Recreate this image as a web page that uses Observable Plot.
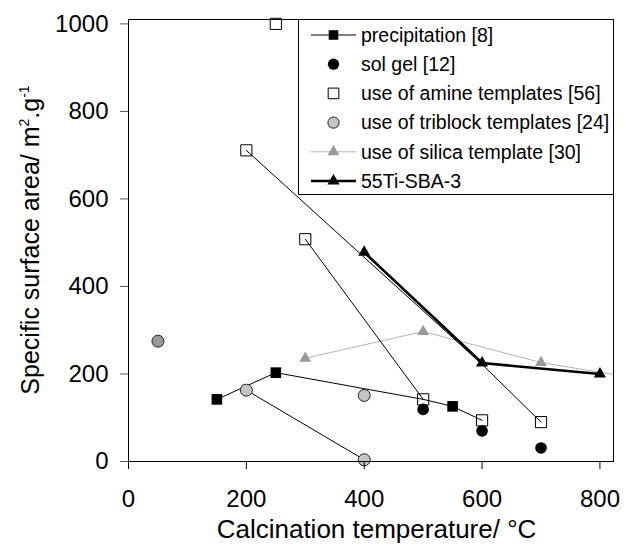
<!DOCTYPE html>
<html>
<head>
<meta charset="utf-8">
<script src="https://cdn.jsdelivr.net/npm/d3@7"></script>
<script src="https://cdn.jsdelivr.net/npm/@observablehq/plot@0.6"></script>
<style>
html, body { margin: 0; padding: 0; background: #fff; }
#chart { position: relative; width: 626px; height: 546px; }
</style>
</head>
<body>
<div id="chart"></div>
<script>
// ---- data ----
const xTicks = [0, 200, 400, 600, 800];
const yTicks = [0, 200, 400, 600, 800, 1000];
const seriesNames = [
  "precipitation [8]",
  "sol gel [12]",
  "use of amine templates [56]",
  "use of triblock templates [24]",
  "use of silica template [30]",
  "55Ti-SBA-3"
];
const xTitle = "Calcination temperature/ °C";

// precipitation [8]
const precipitationT = [150, 250, 550];
const precipitationV = [142, 203, 126];
const precipitationPathT = [150, 250, 500, 550, 600];
const precipitationPathV = [142, 203, 142, 126, 94];
// sol gel [12]
const solGelT = [500, 600, 700];
const solGelV = [119, 70, 31];
// use of amine templates [56]
const amineT = [250, 200, 300, 500, 600, 700];
const amineV = [1000, 711, 508, 142, 94, 90];
const aminePathAT = [200, 600, 700];
const aminePathAV = [711, 222, 90];
const aminePathBT = [300, 500];
const aminePathBV = [508, 142];
// use of triblock templates [24]
const triblockT = [50, 200, 400, 400];
const triblockV = [275, 163, 151, 4];
const triblockPathT = [200, 400];
const triblockPathV = [163, 4];
// use of silica template [30]
const silicaT = [300, 500, 700, 850];
const silicaV = [236, 297, 226, 193];
// 55Ti-SBA-3
const sbaT = [400, 600, 800];
const sbaV = [478, 225, 200];

const pts = (T, V) => T.map((t, i) => ({t, v: V[i]}));

const FONT = "Arial, 'Liberation Sans', Helvetica, sans-serif";
const width = 626, height = 546;
const mL = 128, mR = 13, mT = 19, mB = 85;

const triblock = pts(triblockT, triblockV);

const plot = Plot.plot({
  width, height,
  marginLeft: mL, marginRight: mR, marginTop: mT, marginBottom: mB,
  x: {domain: [0, 823]},
  y: {domain: [0, 1010]},
  style: {fontFamily: FONT, fontSize: "24px", background: "white", color: "black", overflow: "visible"},
  marks: [
    Plot.line(pts(silicaT, silicaV), {x: "t", y: "v", stroke: "#b4b4b4", strokeWidth: 1, clip: true}),
    Plot.dot(pts(silicaT, silicaV), {x: "t", y: "v", symbol: "triangle", r: 4.4, fill: "#999", stroke: "none", clip: true}),
    Plot.line(pts(precipitationPathT, precipitationPathV), {x: "t", y: "v", stroke: "black", strokeWidth: 1}),
    Plot.line(pts(aminePathAT, aminePathAV), {x: "t", y: "v", stroke: "black", strokeWidth: 1}),
    Plot.line(pts(aminePathBT, aminePathBV), {x: "t", y: "v", stroke: "black", strokeWidth: 1}),
    Plot.line(pts(triblockPathT, triblockPathV), {x: "t", y: "v", stroke: "black", strokeWidth: 1}),
    Plot.line(pts(sbaT, sbaV), {x: "t", y: "v", stroke: "black", strokeWidth: 2.6}),
    Plot.dot(pts(precipitationT, precipitationV), {x: "t", y: "v", symbol: "square", r: 6, fill: "black", stroke: "none"}),
    Plot.dot(triblock.slice(0, 1), {x: "t", y: "v", symbol: "circle", r: 6, fill: "#999", stroke: "#222", strokeWidth: 1}),
    Plot.dot(triblock.slice(1), {x: "t", y: "v", symbol: "circle", r: 6, fill: "#c4c4c4", stroke: "#222", strokeWidth: 1}),
    Plot.dot(pts(amineT, amineV), {x: "t", y: "v", symbol: "square", r: 6.3, fill: "none", stroke: "black", strokeWidth: 1}),
    Plot.dot(pts(solGelT, solGelV), {x: "t", y: "v", symbol: "circle", r: 5.8, fill: "black", stroke: "none"}),
    Plot.dot(pts(sbaT, sbaV), {x: "t", y: "v", symbol: "triangle", r: 4.5, fill: "black", stroke: "none"}),
    Plot.frame({stroke: "black"}),
    Plot.axisX({ticks: xTicks, tickFormat: d => String(d), tickSize: 8, tickPadding: 20, fontSize: 24, label: null, stroke: "black"}),
    Plot.axisY({ticks: yTicks, tickFormat: d => String(d), tickSize: 8, tickPadding: 12, fontSize: 24, label: null, stroke: "#555"})
  ]
});

const svg = d3.select(plot);

// axis titles
svg.append("text")
  .attr("x", (mL + width - mR) / 2 + 6)
  .attr("y", 538)
  .attr("text-anchor", "middle")
  .style("font-family", FONT)
  .style("font-size", "26px")
  .attr("fill", "black")
  .text(xTitle);

const yt = svg.append("text")
  .attr("transform", `translate(39,${(mT + height - mB) / 2}) rotate(-90)`)
  .attr("text-anchor", "middle")
  .style("font-family", FONT)
  .style("font-size", "25px")
  .attr("fill", "black");
yt.append("tspan").text("Specific surface area/ m");
yt.append("tspan").attr("dy", -10).style("font-size", "14px").text("2");
yt.append("tspan").attr("dy", 10).text(".g");
yt.append("tspan").attr("dy", -10).style("font-size", "14px").text("-1");

// legend
const lg = svg.append("g");
lg.append("rect")
  .attr("x", 298.5).attr("y", 19.5)
  .attr("width", 315).attr("height", 175)
  .attr("fill", "white").attr("stroke", "black");
const legendStyle = [
  {line: "black", lw: 1, sym: d3.symbolSquare, r: 5.4, fill: "black", stroke: "none"},
  {line: null, sym: d3.symbolCircle, r: 5.6, fill: "black", stroke: "none"},
  {line: null, sym: d3.symbolSquare, r: 6, fill: "none", stroke: "black"},
  {line: null, sym: d3.symbolCircle, r: 5.6, fill: "#c4c4c4", stroke: "#222"},
  {line: "#b4b4b4", lw: 1, sym: d3.symbolTriangle, r: 4.4, fill: "#999", stroke: "none"},
  {line: "black", lw: 2.6, sym: d3.symbolTriangle, r: 4.5, fill: "black", stroke: "none"}
];
seriesNames.forEach((name, i) => {
  const s = legendStyle[i];
  const cy = 35 + i * 29.2;
  const g = lg.append("g");
  if (s.line) {
    g.append("line").attr("x1", 311).attr("x2", 356).attr("y1", cy).attr("y2", cy)
      .attr("stroke", s.line).attr("stroke-width", s.lw);
  }
  g.append("path")
    .attr("d", d3.symbol().type(s.sym).size(s.r * s.r * Math.PI)())
    .attr("transform", `translate(333.5,${cy})`)
    .attr("fill", s.fill).attr("stroke", s.stroke);
  g.append("text").attr("x", 361).attr("y", cy).attr("dy", "0.35em")
    .attr("text-anchor", "start")
    .style("font-family", FONT).style("font-size", "19.5px").attr("fill", "black")
    .text(name);
});

document.getElementById("chart").appendChild(plot);
</script>
</body>
</html>
